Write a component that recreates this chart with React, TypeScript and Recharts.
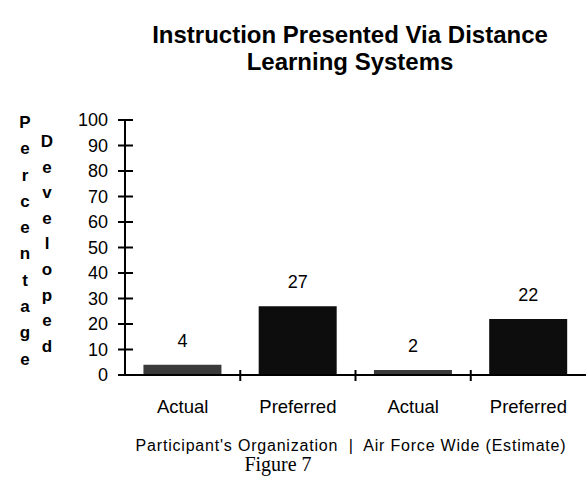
import React from "react";
import { Bar, BarChart, Cell, LabelList, XAxis, YAxis } from "recharts";

const categories = ["Actual", "Preferred", "Actual", "Preferred"];
const values = [4, 27, 2, 22];
const yTicks = [0, 10, 20, 30, 40, 50, 60, 70, 80, 90, 100];
const titleLines = ["Instruction Presented Via Distance", "Learning Systems"];
const yLabelOuter = "Percentage";
const yLabelInner = "Developed";
const groupCaption = "Participant's Organization  |  Air Force Wide (Estimate)";
const figureCaption = "Figure 7";

const barColors = ["#3a3a3a", "#0d0d0d", "#3a3a3a", "#0d0d0d"];

const data = categories.map((name, i) => ({ name, value: values[i] }));

const SANS = "'Liberation Sans', Arial, Helvetica, sans-serif";
const W = 586;
const H = 481;
const PLOT_LEFT = 125;
const BAND = (W - PLOT_LEFT) / categories.length;

const YTick = (props: any) => {
  const { x, y, payload } = props;
  return (
    <g>
      <line x1={x - 7} x2={x + 8} y1={y} y2={y} stroke="#000" strokeWidth={2} />
      <text
        x={x - 17}
        y={y}
        dy={6}
        textAnchor="end"
        fontFamily={SANS}
        fontSize={18}
        fill="#000"
      >
        {payload.value}
      </text>
    </g>
  );
};

const XTick = (props: any) => {
  const { x, y, payload, index } = props;
  return (
    <g>
      {index > 0 && (
        <line
          x1={x - BAND / 2}
          x2={x - BAND / 2}
          y1={y - 5}
          y2={y + 6}
          stroke="#000"
          strokeWidth={2}
        />
      )}
      <text
        x={x}
        y={y + 38}
        textAnchor="middle"
        fontFamily={SANS}
        fontSize={18.5}
        fill="#000"
      >
        {payload.value}
      </text>
    </g>
  );
};

const Stacked = ({ text, left, top, lh }: { text: string; left: number; top: number; lh: number }) => (
  <div
    style={{
      position: "absolute",
      left: left - 10,
      top,
      width: 20,
      textAlign: "center",
      fontFamily: SANS,
      fontSize: 17,
      fontWeight: 600,
      lineHeight: `${lh}px`,
    }}
  >
    {text.split("").map((ch, i) => (
      <div key={i}>{ch}</div>
    ))}
  </div>
);

export default function App() {
  return (
    <div
      style={{
        position: "absolute",
        left: 0,
        top: 0,
        width: W,
        height: H,
        background: "#fff",
        overflow: "hidden",
      }}
    >
      <div
        style={{
          position: "absolute",
          left: 100,
          width: 500,
          top: 21,
          textAlign: "center",
          fontFamily: SANS,
          fontWeight: "bold",
          fontSize: 24,
          lineHeight: "27px",
        }}
      >
        {titleLines.map((t) => (
          <div key={t}>{t}</div>
        ))}
      </div>

      <Stacked text={yLabelOuter} left={25} top={110} lh={26.3} />
      <Stacked text={yLabelInner} left={47} top={129} lh={25.6} />

      <div style={{ position: "absolute", left: 0, top: 0 }}>
        <BarChart
          width={W}
          height={H}
          data={data}
          margin={{ top: 120, right: 0, bottom: 0, left: 0 }}
          barCategoryGap="16%"
        >
          <YAxis
            width={PLOT_LEFT}
            domain={[0, 100]}
            ticks={yTicks}
            interval={0}
            tickSize={0}
            tickMargin={0}
            tickLine={false}
            axisLine={{ stroke: "#000", strokeWidth: 2 }}
            tick={<YTick />}
          />
          <XAxis
            dataKey="name"
            height={106}
            interval={0}
            tickSize={0}
            tickMargin={0}
            tickLine={false}
            axisLine={{ stroke: "#000", strokeWidth: 2 }}
            tick={<XTick />}
          />
          <Bar dataKey="value" isAnimationActive={false}>
            {data.map((d, i) => (
              <Cell key={i} fill={barColors[i]} />
            ))}
            <LabelList
              dataKey="value"
              position="top"
              offset={18}
              fill="#000"
              fontFamily={SANS}
              fontSize={18}
            />
          </Bar>
        </BarChart>
      </div>

      <div
        style={{
          position: "absolute",
          left: 100,
          width: 502,
          top: 437,
          textAlign: "center",
          fontFamily: SANS,
          fontSize: 16,
          letterSpacing: "0.8px",
          whiteSpace: "pre",
        }}
      >
        {groupCaption}
      </div>
      <div
        style={{
          position: "absolute",
          left: 178,
          width: 200,
          top: 453,
          textAlign: "center",
          fontFamily: "'Liberation Serif', 'Times New Roman', serif",
          fontSize: 20,
        }}
      >
        {figureCaption}
      </div>
    </div>
  );
}
